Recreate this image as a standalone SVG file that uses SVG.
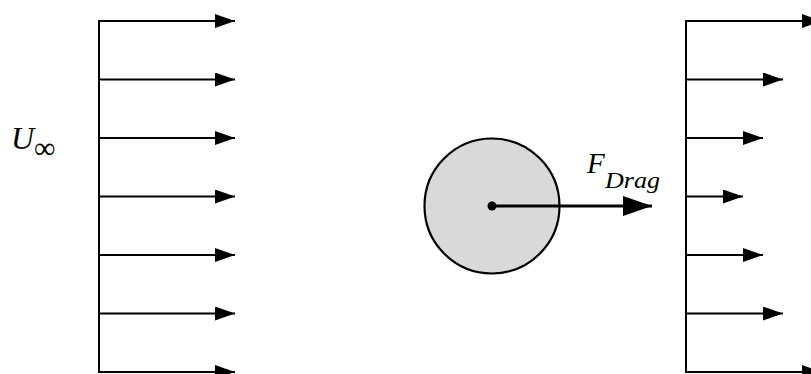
<svg xmlns="http://www.w3.org/2000/svg" width="811" height="374" viewBox="0 0 811 374">
<style>
.ln{stroke:#000;stroke-width:2;fill:none}
.ar{stroke:#000;stroke-width:1.8;fill:none;marker-end:url(#ah)}
.t{font-family:"Liberation Serif",serif;fill:#000}
</style>
<defs>
<marker id="ah" markerUnits="userSpaceOnUse" markerWidth="22" markerHeight="16" refX="20" refY="7" orient="auto">
<path d="M0,0 L20,7 L0,14 Z" fill="#000"/>
</marker>
<marker id="ah2" markerUnits="userSpaceOnUse" markerWidth="30" markerHeight="22" refX="29" refY="10" orient="auto">
<path d="M0,0 L29,10 L0,20 Z" fill="#000"/>
</marker>
</defs>
<rect width="811" height="374" fill="#fff"/>
<g id="inflow">
<line class="ln" x1="99" y1="20" x2="99" y2="373"/>
<line class="ar" x1="98" y1="21" x2="235" y2="21"/>
<line class="ar" x1="99" y1="79.5" x2="235" y2="79.5"/>
<line class="ar" x1="99" y1="138" x2="235" y2="138"/>
<line class="ar" x1="99" y1="196.5" x2="235" y2="196.5"/>
<line class="ar" x1="99" y1="255" x2="235" y2="255"/>
<line class="ar" x1="99" y1="313.5" x2="235" y2="313.5"/>
<line class="ar" x1="98" y1="372" x2="235" y2="372"/>
</g>
<g id="label-u">
<text class="t" x="11" y="149" font-size="32" font-style="italic">U</text>
<text class="t" x="34" y="158" font-size="30">∞</text>
</g>
<g id="cylinder">
<circle cx="492" cy="206" r="67.5" fill="#d9d9d9" stroke="#000" stroke-width="2.2"/>
<circle cx="492" cy="206" r="4.5" fill="#000"/>
</g>
<g id="drag">
<line x1="492" y1="206" x2="652" y2="206" stroke="#000" stroke-width="3" marker-end="url(#ah2)"/>
<text class="t" x="587" y="173" font-size="29" font-style="italic">F</text>
<text class="t" x="605" y="188" font-size="23" font-style="italic" textLength="55" lengthAdjust="spacingAndGlyphs">Drag</text>
</g>
<g id="wake">
<line class="ln" x1="686" y1="20" x2="686" y2="373"/>
<line class="ar" x1="685" y1="21" x2="822" y2="21"/>
<line class="ar" x1="686" y1="79.5" x2="783" y2="79.5"/>
<line class="ar" x1="686" y1="138" x2="763" y2="138"/>
<line class="ar" x1="686" y1="196.5" x2="743" y2="196.5"/>
<line class="ar" x1="686" y1="255" x2="763" y2="255"/>
<line class="ar" x1="686" y1="313.5" x2="783" y2="313.5"/>
<line class="ar" x1="685" y1="372" x2="822" y2="372"/>
</g>
</svg>
